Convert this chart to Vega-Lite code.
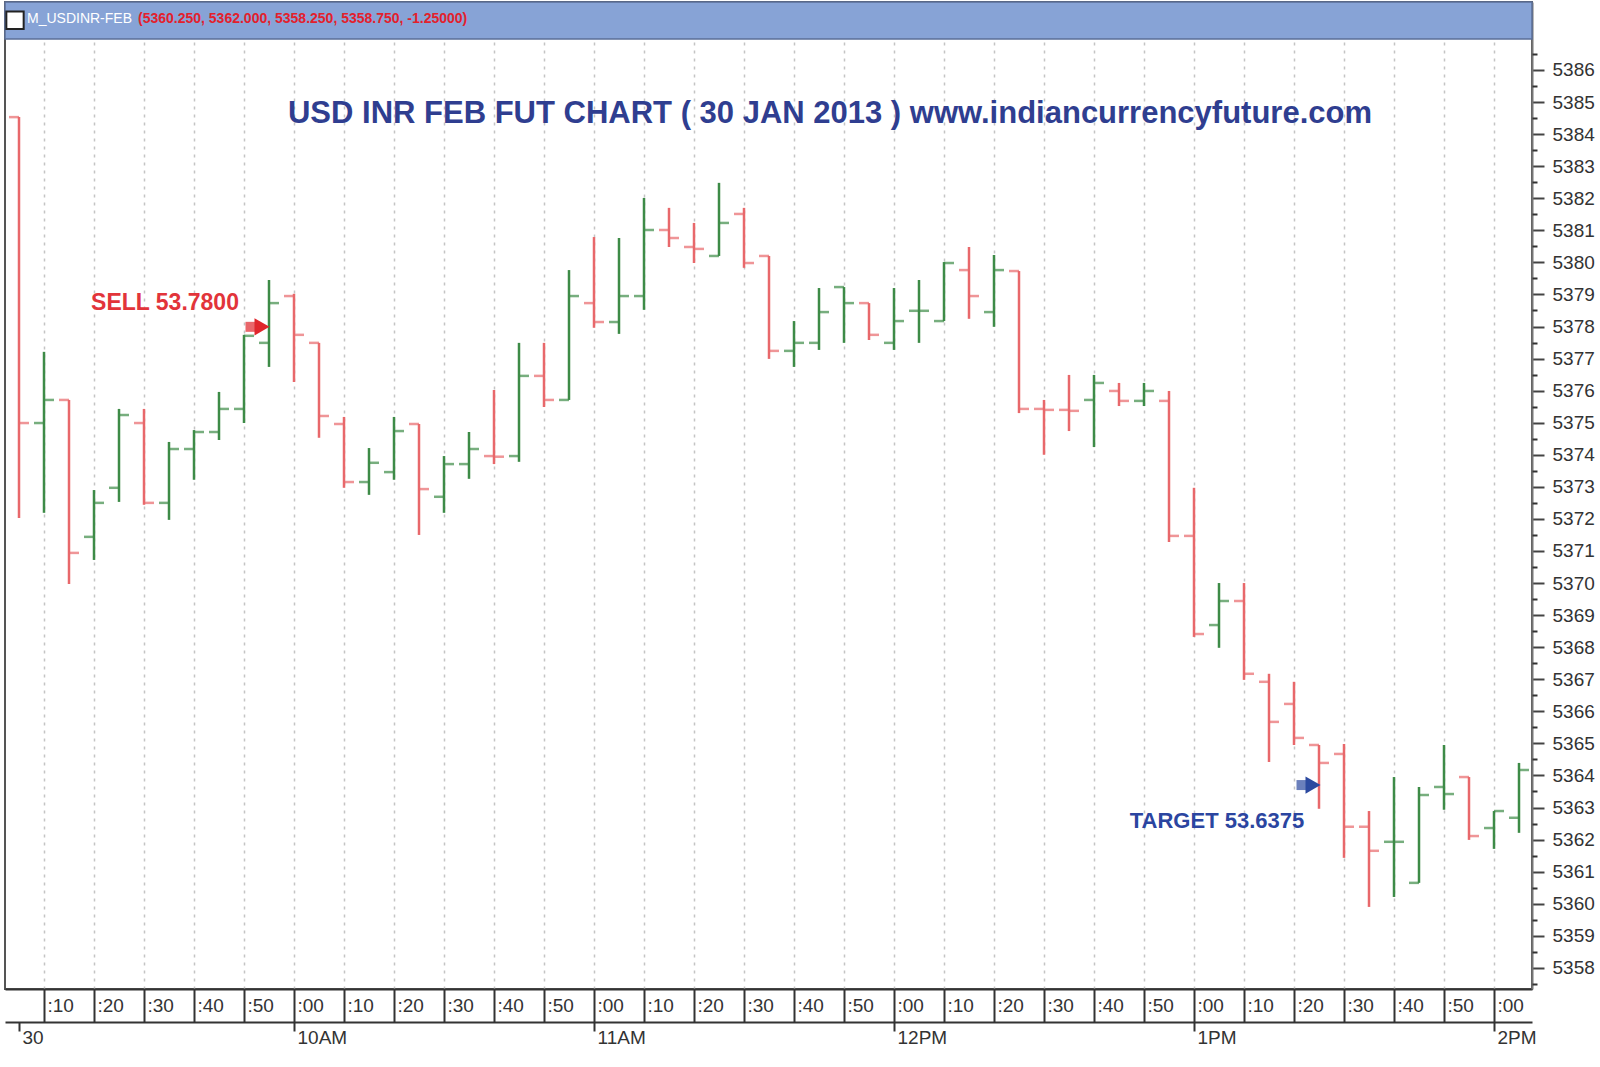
{
  "$schema": "https://vega.github.io/schema/vega-lite/v6.json",
  "width": 1527,
  "height": 987,
  "autosize": "none",
  "padding": {"left": 5, "top": 2, "right": 68, "bottom": 78},
  "background": "white",
  "config": {
    "font": "Liberation Sans",
    "view": {"stroke": "#555", "strokeWidth": 2}
  },
  "datasets": {
    "bars": [
      {"t": "2013-01-30T09:05", "o": 5384.53, "h": 5384.53, "l": 5372.03, "c": 5374.99, "dir": "down"},
      {"t": "2013-01-30T09:10", "o": 5374.99, "h": 5377.21, "l": 5372.19, "c": 5375.71, "dir": "up"},
      {"t": "2013-01-30T09:15", "o": 5375.71, "h": 5375.71, "l": 5369.97, "c": 5370.94, "dir": "down"},
      {"t": "2013-01-30T09:20", "o": 5371.44, "h": 5372.90, "l": 5370.72, "c": 5372.50, "dir": "up"},
      {"t": "2013-01-30T09:25", "o": 5372.97, "h": 5375.43, "l": 5372.53, "c": 5375.24, "dir": "up"},
      {"t": "2013-01-30T09:30", "o": 5374.99, "h": 5375.43, "l": 5372.44, "c": 5372.50, "dir": "down"},
      {"t": "2013-01-30T09:35", "o": 5372.50, "h": 5374.40, "l": 5371.97, "c": 5374.18, "dir": "up"},
      {"t": "2013-01-30T09:40", "o": 5374.18, "h": 5374.77, "l": 5373.22, "c": 5374.71, "dir": "up"},
      {"t": "2013-01-30T09:45", "o": 5374.71, "h": 5375.96, "l": 5374.46, "c": 5375.43, "dir": "up"},
      {"t": "2013-01-30T09:50", "o": 5375.43, "h": 5377.74, "l": 5374.99, "c": 5377.71, "dir": "up"},
      {"t": "2013-01-30T09:55", "o": 5377.49, "h": 5379.45, "l": 5376.74, "c": 5378.73, "dir": "up"},
      {"t": "2013-01-30T10:00", "o": 5378.95, "h": 5379.02, "l": 5376.27, "c": 5377.74, "dir": "down"},
      {"t": "2013-01-30T10:05", "o": 5377.49, "h": 5377.49, "l": 5374.53, "c": 5375.21, "dir": "down"},
      {"t": "2013-01-30T10:10", "o": 5374.96, "h": 5375.18, "l": 5372.97, "c": 5373.15, "dir": "down"},
      {"t": "2013-01-30T10:15", "o": 5373.15, "h": 5374.21, "l": 5372.75, "c": 5373.75, "dir": "up"},
      {"t": "2013-01-30T10:20", "o": 5373.46, "h": 5375.18, "l": 5373.22, "c": 5374.74, "dir": "up"},
      {"t": "2013-01-30T10:25", "o": 5374.96, "h": 5374.96, "l": 5371.50, "c": 5372.93, "dir": "down"},
      {"t": "2013-01-30T10:30", "o": 5372.69, "h": 5373.96, "l": 5372.19, "c": 5373.71, "dir": "up"},
      {"t": "2013-01-30T10:35", "o": 5373.71, "h": 5374.71, "l": 5373.25, "c": 5374.18, "dir": "up"},
      {"t": "2013-01-30T10:40", "o": 5373.96, "h": 5376.02, "l": 5373.71, "c": 5373.94, "dir": "down"},
      {"t": "2013-01-30T10:45", "o": 5373.96, "h": 5377.49, "l": 5373.78, "c": 5376.46, "dir": "up"},
      {"t": "2013-01-30T10:50", "o": 5376.46, "h": 5377.49, "l": 5375.49, "c": 5375.71, "dir": "down"},
      {"t": "2013-01-30T10:55", "o": 5375.71, "h": 5379.76, "l": 5375.71, "c": 5378.95, "dir": "up"},
      {"t": "2013-01-30T11:00", "o": 5378.73, "h": 5380.79, "l": 5377.96, "c": 5378.14, "dir": "down"},
      {"t": "2013-01-30T11:05", "o": 5378.14, "h": 5380.76, "l": 5377.77, "c": 5378.95, "dir": "up"},
      {"t": "2013-01-30T11:10", "o": 5378.95, "h": 5382.01, "l": 5378.52, "c": 5381.01, "dir": "up"},
      {"t": "2013-01-30T11:15", "o": 5381.01, "h": 5381.70, "l": 5380.48, "c": 5380.76, "dir": "down"},
      {"t": "2013-01-30T11:20", "o": 5380.48, "h": 5381.23, "l": 5379.98, "c": 5380.42, "dir": "down"},
      {"t": "2013-01-30T11:25", "o": 5380.20, "h": 5382.48, "l": 5380.20, "c": 5381.23, "dir": "up"},
      {"t": "2013-01-30T11:30", "o": 5381.51, "h": 5381.70, "l": 5379.83, "c": 5379.98, "dir": "down"},
      {"t": "2013-01-30T11:35", "o": 5380.20, "h": 5380.20, "l": 5376.99, "c": 5377.24, "dir": "down"},
      {"t": "2013-01-30T11:40", "o": 5377.24, "h": 5378.17, "l": 5376.74, "c": 5377.49, "dir": "up"},
      {"t": "2013-01-30T11:45", "o": 5377.49, "h": 5379.20, "l": 5377.27, "c": 5378.45, "dir": "up"},
      {"t": "2013-01-30T11:50", "o": 5379.23, "h": 5379.23, "l": 5377.49, "c": 5378.73, "dir": "up"},
      {"t": "2013-01-30T11:55", "o": 5378.73, "h": 5378.73, "l": 5377.58, "c": 5377.74, "dir": "down"},
      {"t": "2013-01-30T12:00", "o": 5377.49, "h": 5379.20, "l": 5377.27, "c": 5378.17, "dir": "up"},
      {"t": "2013-01-30T12:05", "o": 5378.49, "h": 5379.45, "l": 5377.49, "c": 5378.49, "dir": "up"},
      {"t": "2013-01-30T12:10", "o": 5378.17, "h": 5380.01, "l": 5378.17, "c": 5379.98, "dir": "up"},
      {"t": "2013-01-30T12:15", "o": 5379.76, "h": 5380.48, "l": 5378.24, "c": 5378.95, "dir": "down"},
      {"t": "2013-01-30T12:20", "o": 5378.45, "h": 5380.23, "l": 5377.99, "c": 5379.76, "dir": "up"},
      {"t": "2013-01-30T12:25", "o": 5379.73, "h": 5379.73, "l": 5375.30, "c": 5375.43, "dir": "down"},
      {"t": "2013-01-30T12:30", "o": 5375.43, "h": 5375.71, "l": 5374.00, "c": 5375.40, "dir": "down"},
      {"t": "2013-01-30T12:35", "o": 5375.40, "h": 5376.49, "l": 5374.74, "c": 5375.37, "dir": "down"},
      {"t": "2013-01-30T12:40", "o": 5375.71, "h": 5376.49, "l": 5374.24, "c": 5376.24, "dir": "up"},
      {"t": "2013-01-30T12:45", "o": 5375.99, "h": 5376.24, "l": 5375.52, "c": 5375.68, "dir": "down"},
      {"t": "2013-01-30T12:50", "o": 5375.68, "h": 5376.24, "l": 5375.52, "c": 5375.99, "dir": "up"},
      {"t": "2013-01-30T12:55", "o": 5375.68, "h": 5375.99, "l": 5371.28, "c": 5371.47, "dir": "down"},
      {"t": "2013-01-30T13:00", "o": 5371.47, "h": 5372.97, "l": 5368.32, "c": 5368.41, "dir": "down"},
      {"t": "2013-01-30T13:05", "o": 5368.69, "h": 5370.00, "l": 5367.98, "c": 5369.44, "dir": "up"},
      {"t": "2013-01-30T13:10", "o": 5369.44, "h": 5370.00, "l": 5366.98, "c": 5367.17, "dir": "down"},
      {"t": "2013-01-30T13:15", "o": 5366.92, "h": 5367.17, "l": 5364.42, "c": 5365.67, "dir": "down"},
      {"t": "2013-01-30T13:20", "o": 5366.23, "h": 5366.92, "l": 5364.95, "c": 5365.17, "dir": "down"},
      {"t": "2013-01-30T13:25", "o": 5364.95, "h": 5364.95, "l": 5362.96, "c": 5364.39, "dir": "down"},
      {"t": "2013-01-30T13:30", "o": 5364.67, "h": 5364.98, "l": 5361.43, "c": 5362.40, "dir": "down"},
      {"t": "2013-01-30T13:35", "o": 5362.40, "h": 5362.89, "l": 5359.90, "c": 5361.65, "dir": "down"},
      {"t": "2013-01-30T13:40", "o": 5361.93, "h": 5363.95, "l": 5360.21, "c": 5361.93, "dir": "up"},
      {"t": "2013-01-30T13:45", "o": 5360.65, "h": 5363.64, "l": 5360.65, "c": 5363.39, "dir": "up"},
      {"t": "2013-01-30T13:50", "o": 5363.64, "h": 5364.95, "l": 5362.93, "c": 5363.42, "dir": "up"},
      {"t": "2013-01-30T13:55", "o": 5363.95, "h": 5363.95, "l": 5361.99, "c": 5362.11, "dir": "down"},
      {"t": "2013-01-30T14:00", "o": 5362.36, "h": 5362.89, "l": 5361.71, "c": 5362.89, "dir": "up"},
      {"t": "2013-01-30T14:05", "o": 5362.68, "h": 5364.39, "l": 5362.21, "c": 5364.17, "dir": "up"}
    ],
    "arrows": [
      {"t": "2013-01-30T09:52:36", "v": 5377.99, "kind": "sell"},
      {"t": "2013-01-30T13:22:48", "v": 5363.7, "kind": "target"}
    ]
  },
  "resolve": {"axis": {"x": "independent", "y": "independent"}, "scale": {"color": "independent"}},
  "layer": [
    {
      "data": {"values": [{"a": "2013-01-30T09:02:12", "b": "2013-01-30T14:07:36", "lo": 5386.97, "hi": 5388.12}]},
      "mark": {"type": "rect", "fill": "#87a3d6", "stroke": "#5b6f98", "strokeWidth": 1.5},
      "encoding": {
        "x": {
          "field": "a", "type": "temporal",
          "axis": {
            "orient": "bottom", "offset": 33, "title": null, "grid": false,
            "values": [
              {"year": 2013, "month": 1, "date": 30, "hours": 9, "minutes": 5},
              {"year": 2013, "month": 1, "date": 30, "hours": 10, "minutes": 0},
              {"year": 2013, "month": 1, "date": 30, "hours": 11, "minutes": 0},
              {"year": 2013, "month": 1, "date": 30, "hours": 12, "minutes": 0},
              {"year": 2013, "month": 1, "date": 30, "hours": 13, "minutes": 0},
              {"year": 2013, "month": 1, "date": 30, "hours": 14, "minutes": 0}
            ],
            "labelExpr": "hours(datum.value) == 9 ? '30' : timeFormat(datum.value, '%-I%p')",
            "domainColor": "#333", "domainWidth": 2,
            "tickColor": "#333", "tickWidth": 2, "tickSize": 9,
            "labelAlign": "left", "labelBaseline": "middle", "labelOffset": 3, "labelPadding": 6,
            "labelFontSize": 19, "labelColor": "#333", "labelFlush": false, "labelOverlap": false
          }
        },
        "x2": {"field": "b"},
        "y": {"field": "lo", "type": "quantitative", "axis": null},
        "y2": {"field": "hi"}
      }
    },
    {
      "data": {"name": "bars"},
      "mark": {"type": "rule", "strokeWidth": 2.5},
      "encoding": {
        "x": {
          "field": "t", "type": "temporal",
          "scale": {"domain": [
            {"year": 2013, "month": 1, "date": 30, "hours": 9, "minutes": 2, "seconds": 12},
            {"year": 2013, "month": 1, "date": 30, "hours": 14, "minutes": 7, "seconds": 36}
          ]},
          "axis": {
            "orient": "bottom", "title": null,
            "values": [
              {"year": 2013, "month": 1, "date": 30, "hours": 9, "minutes": 10},
              {"year": 2013, "month": 1, "date": 30, "hours": 9, "minutes": 20},
              {"year": 2013, "month": 1, "date": 30, "hours": 9, "minutes": 30},
              {"year": 2013, "month": 1, "date": 30, "hours": 9, "minutes": 40},
              {"year": 2013, "month": 1, "date": 30, "hours": 9, "minutes": 50},
              {"year": 2013, "month": 1, "date": 30, "hours": 10, "minutes": 0},
              {"year": 2013, "month": 1, "date": 30, "hours": 10, "minutes": 10},
              {"year": 2013, "month": 1, "date": 30, "hours": 10, "minutes": 20},
              {"year": 2013, "month": 1, "date": 30, "hours": 10, "minutes": 30},
              {"year": 2013, "month": 1, "date": 30, "hours": 10, "minutes": 40},
              {"year": 2013, "month": 1, "date": 30, "hours": 10, "minutes": 50},
              {"year": 2013, "month": 1, "date": 30, "hours": 11, "minutes": 0},
              {"year": 2013, "month": 1, "date": 30, "hours": 11, "minutes": 10},
              {"year": 2013, "month": 1, "date": 30, "hours": 11, "minutes": 20},
              {"year": 2013, "month": 1, "date": 30, "hours": 11, "minutes": 30},
              {"year": 2013, "month": 1, "date": 30, "hours": 11, "minutes": 40},
              {"year": 2013, "month": 1, "date": 30, "hours": 11, "minutes": 50},
              {"year": 2013, "month": 1, "date": 30, "hours": 12, "minutes": 0},
              {"year": 2013, "month": 1, "date": 30, "hours": 12, "minutes": 10},
              {"year": 2013, "month": 1, "date": 30, "hours": 12, "minutes": 20},
              {"year": 2013, "month": 1, "date": 30, "hours": 12, "minutes": 30},
              {"year": 2013, "month": 1, "date": 30, "hours": 12, "minutes": 40},
              {"year": 2013, "month": 1, "date": 30, "hours": 12, "minutes": 50},
              {"year": 2013, "month": 1, "date": 30, "hours": 13, "minutes": 0},
              {"year": 2013, "month": 1, "date": 30, "hours": 13, "minutes": 10},
              {"year": 2013, "month": 1, "date": 30, "hours": 13, "minutes": 20},
              {"year": 2013, "month": 1, "date": 30, "hours": 13, "minutes": 30},
              {"year": 2013, "month": 1, "date": 30, "hours": 13, "minutes": 40},
              {"year": 2013, "month": 1, "date": 30, "hours": 13, "minutes": 50},
              {"year": 2013, "month": 1, "date": 30, "hours": 14, "minutes": 0}
            ],
            "format": ":%M",
            "grid": true, "gridDash": [3, 5], "gridColor": "#c4c4c4", "gridWidth": 1.5,
            "domainColor": "#333", "domainWidth": 2,
            "tickColor": "#333", "tickWidth": 2, "tickSize": 33,
            "labelAlign": "left", "labelBaseline": "middle", "labelOffset": 3, "labelPadding": -17,
            "labelFontSize": 19, "labelColor": "#333", "labelFlush": false, "labelOverlap": false
          }
        },
        "y": {
          "field": "l", "type": "quantitative",
          "scale": {"domain": [5357.34, 5388.12], "nice": false, "zero": false},
          "axis": {
            "orient": "right", "title": null, "grid": false,
            "values": [5358, 5359, 5360, 5361, 5362, 5363, 5364, 5365, 5366, 5367, 5368, 5369, 5370, 5371, 5372, 5373, 5374, 5375, 5376, 5377, 5378, 5379, 5380, 5381, 5382, 5383, 5384, 5385, 5386],
            "format": "d",
            "tickSize": 12,
            "domainColor": "#777", "domainWidth": 2,
            "tickColor": "#444", "tickWidth": 2,
            "labelPadding": 8, "labelFontSize": 19, "labelColor": "#333",
            "labelFlush": false, "labelOverlap": false
          }
        },
        "y2": {"field": "h"},
        "color": {
          "field": "dir", "type": "nominal",
          "scale": {"domain": ["up", "down"], "range": ["#3d8b47", "#e8686b"]},
          "legend": null
        }
      }
    },
    {
      "data": {"name": "bars"},
      "mark": {"type": "tick", "orient": "horizontal", "size": 10, "thickness": 2.5, "xOffset": -5},
      "encoding": {
        "x": {"field": "t", "type": "temporal", "axis": null},
        "y": {
          "field": "o", "type": "quantitative",
          "axis": {
            "orient": "right", "title": null, "grid": false, "labels": false, "domain": false,
            "values": [5357.5, 5358.5, 5359.5, 5360.5, 5361.5, 5362.5, 5363.5, 5364.5, 5365.5, 5366.5, 5367.5, 5368.5, 5369.5, 5370.5, 5371.5, 5372.5, 5373.5, 5374.5, 5375.5, 5376.5, 5377.5, 5378.5, 5379.5, 5380.5, 5381.5, 5382.5, 5383.5, 5384.5, 5385.5, 5386.5],
            "tickSize": 5, "tickColor": "#333", "tickWidth": 2
          }
        },
        "color": {
          "field": "dir", "type": "nominal",
          "scale": {"domain": ["up", "down"], "range": ["#3d8b47", "#e8686b"]},
          "legend": null
        }
      }
    },
    {
      "data": {"name": "bars"},
      "mark": {"type": "tick", "orient": "horizontal", "size": 10, "thickness": 2.5, "xOffset": 5},
      "encoding": {
        "x": {"field": "t", "type": "temporal", "axis": null},
        "y": {"field": "c", "type": "quantitative", "axis": null},
        "color": {
          "field": "dir", "type": "nominal",
          "scale": {"domain": ["up", "down"], "range": ["#3d8b47", "#e8686b"]},
          "legend": null
        }
      }
    },
    {
      "data": {"values": [{"t": "2013-01-30T09:04:12", "v": 5387.55}]},
      "mark": {"type": "point", "shape": "square", "size": 300, "filled": true, "fill": "white", "stroke": "#222", "strokeWidth": 2, "opacity": 1},
      "encoding": {
        "x": {"field": "t", "type": "temporal", "axis": null},
        "y": {"field": "v", "type": "quantitative", "axis": null}
      }
    },
    {
      "data": {"values": [{"t": "2013-01-30T09:06:36", "v": 5387.6, "label": "M_USDINR-FEB"}]},
      "mark": {"type": "text", "align": "left", "baseline": "middle", "fontSize": 14, "color": "white"},
      "encoding": {
        "x": {"field": "t", "type": "temporal", "axis": null},
        "y": {"field": "v", "type": "quantitative", "axis": null},
        "text": {"field": "label"}
      }
    },
    {
      "data": {"values": [{"t": "2013-01-30T09:28:48", "v": 5387.6, "label": "(5360.250, 5362.000, 5358.250, 5358.750, -1.25000)"}]},
      "mark": {"type": "text", "align": "left", "baseline": "middle", "fontSize": 14, "fontWeight": "bold", "color": "#e3202c"},
      "encoding": {
        "x": {"field": "t", "type": "temporal", "axis": null},
        "y": {"field": "v", "type": "quantitative", "axis": null},
        "text": {"field": "label"}
      }
    },
    {
      "data": {"values": [{"t": "2013-01-30T11:47:12", "v": 5384.63, "label": "USD INR FEB FUT CHART ( 30 JAN 2013 ) www.indiancurrencyfuture.com"}]},
      "mark": {"type": "text", "align": "center", "baseline": "middle", "fontSize": 31, "fontWeight": "bold", "color": "#2f3e90"},
      "encoding": {
        "x": {"field": "t", "type": "temporal", "axis": null},
        "y": {"field": "v", "type": "quantitative", "axis": null},
        "text": {"field": "label"}
      }
    },
    {
      "data": {"values": [{"t": "2013-01-30T09:34:12", "v": 5378.72, "label": "SELL 53.7800"}]},
      "mark": {"type": "text", "align": "center", "baseline": "middle", "fontSize": 23, "fontWeight": "bold", "color": "#e2343a"},
      "encoding": {
        "x": {"field": "t", "type": "temporal", "axis": null},
        "y": {"field": "v", "type": "quantitative", "axis": null},
        "text": {"field": "label"}
      }
    },
    {
      "data": {"values": [{"t": "2013-01-30T13:04:36", "v": 5362.58, "label": "TARGET 53.6375"}]},
      "mark": {"type": "text", "align": "center", "baseline": "middle", "fontSize": 22, "fontWeight": "bold", "color": "#2b45a0"},
      "encoding": {
        "x": {"field": "t", "type": "temporal", "axis": null},
        "y": {"field": "v", "type": "quantitative", "axis": null},
        "text": {"field": "label"}
      }
    },
    {
      "data": {"name": "arrows"},
      "mark": {"type": "tick", "orient": "horizontal", "size": 13, "thickness": 10, "xOffset": -5},
      "encoding": {
        "x": {"field": "t", "type": "temporal", "axis": null},
        "y": {"field": "v", "type": "quantitative", "axis": null},
        "color": {"field": "kind", "type": "nominal", "scale": {"domain": ["sell", "target"], "range": ["#e0262c", "#2c4aa0"]}, "legend": null}
      }
    },
    {
      "data": {"name": "arrows"},
      "mark": {"type": "point", "shape": "triangle-right", "size": 300, "filled": true, "opacity": 1, "xOffset": 5},
      "encoding": {
        "x": {"field": "t", "type": "temporal", "axis": null},
        "y": {"field": "v", "type": "quantitative", "axis": null},
        "color": {"field": "kind", "type": "nominal", "scale": {"domain": ["sell", "target"], "range": ["#e0262c", "#2c4aa0"]}, "legend": null}
      }
    }
  ]
}
